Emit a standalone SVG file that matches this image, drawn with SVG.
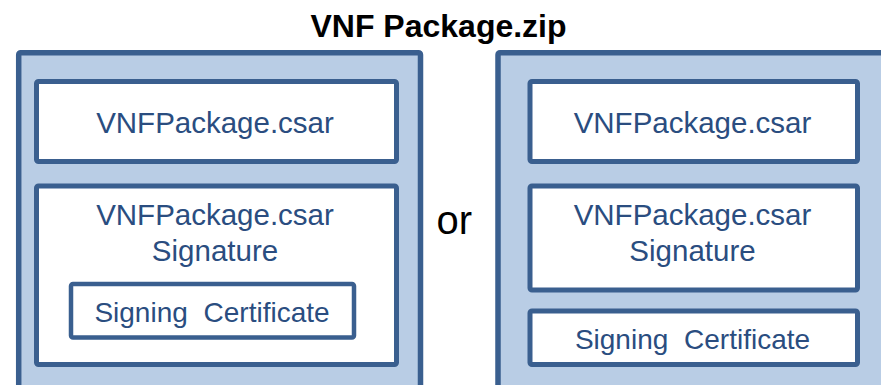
<svg xmlns="http://www.w3.org/2000/svg" width="881" height="385" viewBox="0 0 881 385">
  <style>
    .outer { fill: #B9CDE5; stroke: #3A5F8F; stroke-width: 5.5; }
    .box { fill: #FFFFFF; stroke: #3A5F8F; stroke-width: 5; }
    .lbl { font-family: "Liberation Sans", Arial, sans-serif; font-size: 29.5px; fill: #2A4D80; text-anchor: middle; }
    .cert { font-size: 28px; word-spacing: 8px; }
    .title { font-family: "Liberation Sans", Arial, sans-serif; font-size: 32px; font-weight: bold; fill: #000000; text-anchor: middle; }
    .or { font-family: "Liberation Sans", Arial, sans-serif; font-size: 40px; fill: #000000; }
  </style>

  <rect width="881" height="385" fill="#FFFFFF"/>

  <text class="title" x="438.5" y="36.5">VNF Package.zip</text>

  <!-- Option A: certificate embedded in the signature -->
  <g id="packageA">
    <rect class="outer" x="18.7" y="52.7" width="401.8" height="360" rx="2"/>
  </g>
  <g id="csarA">
    <rect class="box" x="36.5" y="81.5" width="360" height="80" rx="2"/>
    <text class="lbl" x="215" y="133">VNFPackage.csar</text>
  </g>
  <g id="signatureA">
    <rect class="box" x="36.5" y="186" width="360" height="178.5" rx="2"/>
    <text class="lbl" x="215" y="225">VNFPackage.csar</text>
    <text class="lbl" x="215" y="261">Signature</text>
  </g>
  <g id="certA">
    <rect class="box" x="71" y="284" width="283" height="53.5" rx="2" style="stroke-width:4.5"/>
    <text class="lbl cert" x="212" y="322">Signing Certificate</text>
  </g>

  <text class="or" x="436.5" y="234">or</text>

  <!-- Option B: certificate as a separate file -->
  <g id="packageB">
    <rect class="outer" x="498" y="52.7" width="420" height="360" rx="2"/>
  </g>
  <g id="csarB">
    <rect class="box" x="530" y="81.5" width="327.5" height="80" rx="2"/>
    <text class="lbl" x="692.5" y="133">VNFPackage.csar</text>
  </g>
  <g id="signatureB">
    <rect class="box" x="530" y="186" width="327.5" height="104" rx="2"/>
    <text class="lbl" x="692.5" y="225">VNFPackage.csar</text>
    <text class="lbl" x="692.5" y="261">Signature</text>
  </g>
  <g id="certB">
    <rect class="box" x="530" y="311" width="327.5" height="53.5" rx="2"/>
    <text class="lbl cert" x="692.5" y="348.5">Signing Certificate</text>
  </g>

  <g id="connectors"/>
</svg>
